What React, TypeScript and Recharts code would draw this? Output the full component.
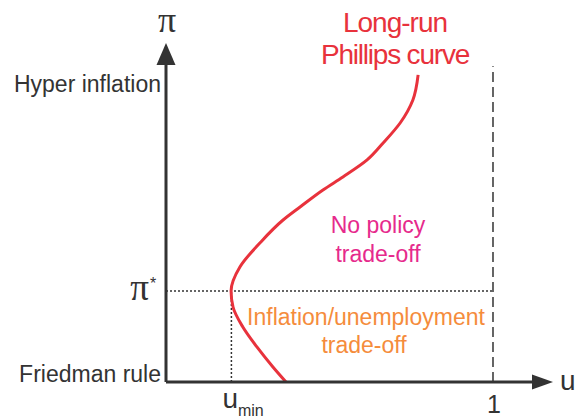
import { LineChart, Line, XAxis, YAxis, ReferenceLine, ReferenceDot, Customized } from "recharts";

// Long-run Phillips curve, listed from the bottom up (u = unemployment, pi = inflation, pi* = 1)
const CURVE_U = [0.367, 0.327, 0.278, 0.235, 0.205, 0.199, 0.226, 0.287, 0.358, 0.41, 0.48, 0.541, 0.615, 0.664, 0.716, 0.755, 0.771];
const CURVE_PI = [0, 0.165, 0.385, 0.604, 0.824, 1.0, 1.264, 1.527, 1.78, 1.923, 2.11, 2.253, 2.44, 2.626, 2.846, 3.099, 3.374];

const U_TICKS = [0.2, 1];
const PI_TICKS = [0, 1, 3.25];
const PI_TICK_LABELS = ["Friedman rule", "π*", "Hyper inflation"];

const U_MIN = 0.2;
const PI_STAR = 1;
const U_MAX = 1.1835;
const PI_MAX = 3.725;
const DASH_TOP = 3.47;

const data = CURVE_U.map((u, i) => ({ u, pi: CURVE_PI[i] }));

const SANS = "'Liberation Sans', Arial, sans-serif";
const SERIF = "'Liberation Serif', 'Times New Roman', serif";
const INK = "#333333";
const RED = "#e8323c";
const PINK = "#e62a8c";
const ORANGE = "#f58c3c";

function UTick({ x, y, payload }: any) {
  if (payload.value === U_MIN) {
    return (
      <text x={x - 9} y={y + 26} fill={INK} fontFamily={SANS} fontSize={28}>
        u
        <tspan dy={8} fontSize={16}>min</tspan>
      </text>
    );
  }
  return (
    <text x={x + 1} y={y + 31} textAnchor="middle" fill={INK} fontFamily={SANS} fontSize={25}>
      1
    </text>
  );
}

function PiTick({ x, y, payload, index }: any) {
  const label = PI_TICK_LABELS[index];
  if (payload.value === PI_STAR) {
    return (
      <g>
        <text x={x - 17} y={y + 9} textAnchor="end" fill={INK} fontFamily={SERIF} fontSize={37}>π</text>
        <text x={x - 16} y={y - 2} fill={INK} fontFamily={SANS} fontSize={16}>*</text>
      </g>
    );
  }
  const dy = payload.value === 0 ? 0 : 6;
  return (
    <text x={x - 5} y={y + dy} textAnchor="end" fill={INK} fontFamily={SANS} fontSize={23}>
      {label}
    </text>
  );
}

function ArrowRight({ cx, cy }: any) {
  return <path d={`M${cx},${cy} L${cx - 21},${cy - 7.5} L${cx - 21},${cy + 7.5} Z`} fill={INK} />;
}

function ArrowUp({ cx, cy }: any) {
  return <path d={`M${cx},${cy} L${cx - 9.5},${cy + 22} L${cx + 9.5},${cy + 22} Z`} fill={INK} />;
}

function Annotations() {
  return (
    <g>
      <text x={167} y={32} textAnchor="middle" fill={INK} fontFamily={SERIF} fontSize={36}>π</text>
      <text x={560} y={390} fill={INK} fontFamily={SANS} fontSize={28}>u</text>
      <text x={395} y={32} textAnchor="middle" fill={RED} fontFamily={SANS} fontSize={28} letterSpacing={-1}>Long-run</text>
      <text x={395} y={64} textAnchor="middle" fill={RED} fontFamily={SANS} fontSize={28} letterSpacing={-1.2}>Phillips curve</text>
      <text x={378} y={233} textAnchor="middle" fill={PINK} fontFamily={SANS} fontSize={23}>No policy</text>
      <text x={378} y={262} textAnchor="middle" fill={PINK} fontFamily={SANS} fontSize={23}>trade-off</text>
      <text x={366} y={325} textAnchor="middle" fill={ORANGE} fontFamily={SANS} fontSize={23}>Inflation/unemployment</text>
      <text x={364} y={353} textAnchor="middle" fill={ORANGE} fontFamily={SANS} fontSize={23}>trade-off</text>
    </g>
  );
}

export default function App() {
  return (
    <div style={{ position: "absolute", left: 0, top: 0, background: "#fff" }}>
      <LineChart width={579} height={419} data={data} margin={{ top: 43, right: 26, bottom: 0, left: 0 }}>
        <XAxis
          type="number"
          dataKey="u"
          domain={[0, U_MAX]}
          ticks={U_TICKS}
          interval={0}
          height={37}
          axisLine={false}
          tickLine={false}
          tickSize={0}
          tickMargin={0}
          tick={<UTick />}
        />
        <YAxis
          type="number"
          domain={[0, PI_MAX]}
          ticks={PI_TICKS}
          interval={0}
          width={166}
          axisLine={false}
          tickLine={false}
          tickSize={0}
          tickMargin={0}
          tick={<PiTick />}
        />
        <ReferenceLine segment={[{ x: 0, y: PI_STAR }, { x: 1, y: PI_STAR }]} stroke={INK} strokeWidth={1.5} strokeDasharray="2 2" />
        <ReferenceLine segment={[{ x: U_MIN, y: 0 }, { x: U_MIN, y: PI_STAR }]} stroke={INK} strokeWidth={1.5} strokeDasharray="2 2" />
        <ReferenceLine segment={[{ x: 1, y: 0 }, { x: 1, y: DASH_TOP }]} stroke={INK} strokeWidth={1.5} strokeDasharray="10 5" />
        <Line
          dataKey="pi"
          type="monotoneY"
          stroke={RED}
          strokeWidth={3}
          dot={false}
          activeDot={false}
          isAnimationActive={false}
        />
        <ReferenceLine segment={[{ x: 0, y: 0 }, { x: U_MAX - 0.03, y: 0 }]} stroke={INK} strokeWidth={3} ifOverflow="visible" />
        <ReferenceLine segment={[{ x: 0, y: 0 }, { x: 0, y: PI_MAX - 0.1 }]} stroke={INK} strokeWidth={3} ifOverflow="visible" />
        <ReferenceDot x={U_MAX} y={0} r={0} shape={<ArrowRight />} ifOverflow="visible" />
        <ReferenceDot x={0} y={PI_MAX} r={0} shape={<ArrowUp />} ifOverflow="visible" />
        <Customized component={<Annotations />} />
      </LineChart>
    </div>
  );
}
